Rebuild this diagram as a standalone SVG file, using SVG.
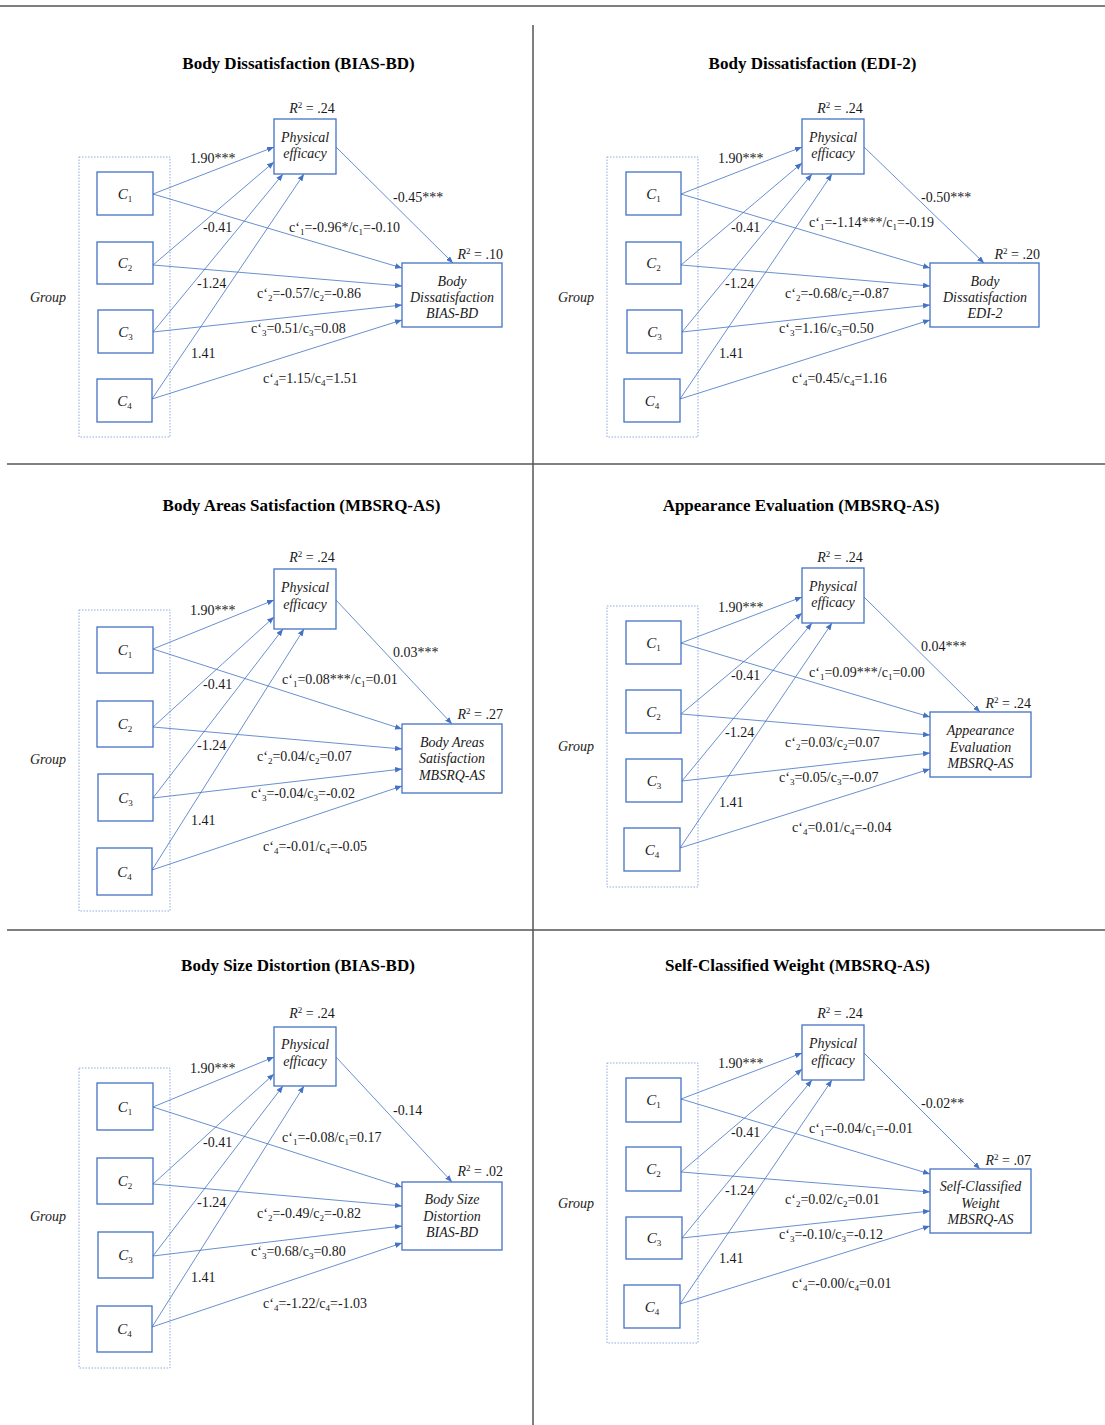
<svg xmlns="http://www.w3.org/2000/svg" width="1105" height="1425" viewBox="0 0 1105 1425">
<style>
.t{font-family:"Liberation Serif","Times New Roman",serif;font-weight:bold;font-size:17px;text-anchor:middle;fill:#000}
.lb{font-family:"Liberation Serif","Times New Roman",serif;font-size:14px;fill:#1a1a1a}
.nd{fill:#fff;stroke:#4472C4;stroke-width:1.3}
.nt{font-family:"Liberation Serif","Times New Roman",serif;font-style:italic;font-size:14px;text-anchor:middle;fill:#1a1a1a}
.ci{font-family:"Liberation Serif","Times New Roman",serif;font-style:italic;font-size:15px;text-anchor:middle;fill:#1a1a1a}
.gr{fill:none;stroke:#8FAADC;stroke-width:1;stroke-dasharray:1.5 1.5}
.gl{font-family:"Liberation Serif","Times New Roman",serif;font-style:italic;font-size:14px;fill:#1a1a1a}
.ar{stroke:#4472C4;stroke-width:0.8;fill:none;marker-end:url(#ah)}
.dv{stroke:#555;stroke-width:1.5}
.sb{font-size:9px;font-style:normal}
.it{font-style:italic}
</style>
<defs>
<marker id="ah" viewBox="0 0 10 8" refX="10" refY="4" markerWidth="7" markerHeight="5.6" orient="auto" markerUnits="userSpaceOnUse"><path d="M0,0 L10,4 L0,8 z" fill="#4472C4"/></marker>
</defs>
<rect width="1105" height="1425" fill="#fff"/>
<g id="dividers">
<line class="dv" x1="0" y1="6" x2="1105" y2="6"/>
<line class="dv" x1="533" y1="25" x2="533" y2="1425"/>
<line class="dv" x1="7" y1="464" x2="1105" y2="464"/>
<line class="dv" x1="7" y1="930" x2="1105" y2="930"/>
</g>
<g id="titles">
<text class="t" x="298.5" y="69">Body Dissatisfaction (BIAS-BD)</text>
<text class="t" x="812.5" y="69">Body Dissatisfaction (EDI-2)</text>
<text class="t" x="301.5" y="511">Body Areas Satisfaction (MBSRQ-AS)</text>
<text class="t" x="801" y="511">Appearance Evaluation (MBSRQ-AS)</text>
<text class="t" x="298" y="971">Body Size Distortion (BIAS-BD)</text>
<text class="t" x="797.5" y="971">Self-Classified Weight (MBSRQ-AS)</text>
</g>

<!-- Panel 1 -->
<g id="p1-group"><rect class="gr" x="79" y="157" width="91" height="280"/><text class="gl" x="30" y="302">Group</text></g>
<g id="p1-c1"><rect class="nd" x="97" y="172" width="56" height="43"/><text class="ci" x="125" y="199">C<tspan class="sb" dy="3">1</tspan></text></g>
<g id="p1-c2"><rect class="nd" x="97" y="242" width="56" height="42"/><text class="ci" x="125" y="268">C<tspan class="sb" dy="3">2</tspan></text></g>
<g id="p1-c3"><rect class="nd" x="98" y="310" width="55" height="43"/><text class="ci" x="125.5" y="337">C<tspan class="sb" dy="3">3</tspan></text></g>
<g id="p1-c4"><rect class="nd" x="97" y="379" width="55" height="43"/><text class="ci" x="124.5" y="406">C<tspan class="sb" dy="3">4</tspan></text></g>
<g id="p1-pe"><rect class="nd" x="274" y="119" width="62" height="55"/><text class="nt" x="305" y="142">Physical</text><text class="nt" x="305" y="158">efficacy</text>
<text class="lb" x="312" y="113" text-anchor="middle"><tspan class="it">R</tspan><tspan class="sb" dy="-5">2</tspan><tspan dy="5"> = .24</tspan></text></g>
<g id="p1-out"><rect class="nd" x="402" y="263" width="100" height="64"/><text class="nt" x="452" y="286">Body</text><text class="nt" x="452" y="302">Dissatisfaction</text><text class="nt" x="452" y="318">BIAS-BD</text>
<text class="lb" x="503" y="259" text-anchor="end"><tspan class="it">R</tspan><tspan class="sb" dy="-5">2</tspan><tspan dy="5"> = .10</tspan></text></g>

<!-- Panel 2 -->
<g id="p2-group"><rect class="gr" x="607" y="157" width="91" height="280"/><text class="gl" x="558" y="302">Group</text></g>
<g id="p2-c1"><rect class="nd" x="626" y="172" width="55" height="43"/><text class="ci" x="653.5" y="199">C<tspan class="sb" dy="3">1</tspan></text></g>
<g id="p2-c2"><rect class="nd" x="626" y="242" width="55" height="42"/><text class="ci" x="653.5" y="268">C<tspan class="sb" dy="3">2</tspan></text></g>
<g id="p2-c3"><rect class="nd" x="627" y="310" width="55" height="43"/><text class="ci" x="654.5" y="337">C<tspan class="sb" dy="3">3</tspan></text></g>
<g id="p2-c4"><rect class="nd" x="624" y="379" width="56" height="43"/><text class="ci" x="652" y="406">C<tspan class="sb" dy="3">4</tspan></text></g>
<g id="p2-pe"><rect class="nd" x="802" y="119" width="62" height="55"/><text class="nt" x="833" y="142">Physical</text><text class="nt" x="833" y="158">efficacy</text>
<text class="lb" x="840" y="113" text-anchor="middle"><tspan class="it">R</tspan><tspan class="sb" dy="-5">2</tspan><tspan dy="5"> = .24</tspan></text></g>
<g id="p2-out"><rect class="nd" x="930" y="263" width="109" height="64"/><text class="nt" x="985" y="286">Body</text><text class="nt" x="985" y="302">Dissatisfaction</text><text class="nt" x="985" y="318">EDI-2</text>
<text class="lb" x="1040" y="259" text-anchor="end"><tspan class="it">R</tspan><tspan class="sb" dy="-5">2</tspan><tspan dy="5"> = .20</tspan></text></g>

<!-- Panel 3 -->
<g id="p3-group"><rect class="gr" x="79" y="610" width="91" height="301"/><text class="gl" x="30" y="764">Group</text></g>
<g id="p3-c1"><rect class="nd" x="97" y="627" width="56" height="46"/><text class="ci" x="125" y="655">C<tspan class="sb" dy="3">1</tspan></text></g>
<g id="p3-c2"><rect class="nd" x="97" y="701" width="56" height="46"/><text class="ci" x="125" y="729">C<tspan class="sb" dy="3">2</tspan></text></g>
<g id="p3-c3"><rect class="nd" x="98" y="774" width="55" height="47"/><text class="ci" x="125.5" y="803">C<tspan class="sb" dy="3">3</tspan></text></g>
<g id="p3-c4"><rect class="nd" x="97" y="848" width="55" height="47"/><text class="ci" x="124.5" y="877">C<tspan class="sb" dy="3">4</tspan></text></g>
<g id="p3-pe"><rect class="nd" x="274" y="569" width="62" height="60"/><text class="nt" x="305" y="592">Physical</text><text class="nt" x="305" y="609">efficacy</text>
<text class="lb" x="312" y="562" text-anchor="middle"><tspan class="it">R</tspan><tspan class="sb" dy="-5">2</tspan><tspan dy="5"> = .24</tspan></text></g>
<g id="p3-out"><rect class="nd" x="402" y="724" width="100" height="69"/><text class="nt" x="452" y="747">Body Areas</text><text class="nt" x="452" y="763">Satisfaction</text><text class="nt" x="452" y="780">MBSRQ-AS</text>
<text class="lb" x="503" y="719" text-anchor="end"><tspan class="it">R</tspan><tspan class="sb" dy="-5">2</tspan><tspan dy="5"> = .27</tspan></text></g>

<!-- Panel 4 -->
<g id="p4-group"><rect class="gr" x="607" y="606" width="91" height="281"/><text class="gl" x="558" y="751">Group</text></g>
<g id="p4-c1"><rect class="nd" x="626" y="621" width="55" height="43"/><text class="ci" x="653.5" y="648">C<tspan class="sb" dy="3">1</tspan></text></g>
<g id="p4-c2"><rect class="nd" x="626" y="690" width="55" height="43"/><text class="ci" x="653.5" y="717">C<tspan class="sb" dy="3">2</tspan></text></g>
<g id="p4-c3"><rect class="nd" x="626" y="759" width="56" height="43"/><text class="ci" x="654" y="786">C<tspan class="sb" dy="3">3</tspan></text></g>
<g id="p4-c4"><rect class="nd" x="624" y="828" width="56" height="43"/><text class="ci" x="652" y="855">C<tspan class="sb" dy="3">4</tspan></text></g>
<g id="p4-pe"><rect class="nd" x="802" y="568" width="62" height="55"/><text class="nt" x="833" y="591">Physical</text><text class="nt" x="833" y="607">efficacy</text>
<text class="lb" x="840" y="562" text-anchor="middle"><tspan class="it">R</tspan><tspan class="sb" dy="-5">2</tspan><tspan dy="5"> = .24</tspan></text></g>
<g id="p4-out"><rect class="nd" x="930" y="712" width="101" height="65"/><text class="nt" x="980.5" y="735">Appearance</text><text class="nt" x="980.5" y="752">Evaluation</text><text class="nt" x="980.5" y="768">MBSRQ-AS</text>
<text class="lb" x="1031" y="708" text-anchor="end"><tspan class="it">R</tspan><tspan class="sb" dy="-5">2</tspan><tspan dy="5"> = .24</tspan></text></g>

<!-- Panel 5 -->
<g id="p5-group"><rect class="gr" x="79" y="1068" width="91" height="300"/><text class="gl" x="30" y="1221">Group</text></g>
<g id="p5-c1"><rect class="nd" x="97" y="1083" width="56" height="47"/><text class="ci" x="125" y="1112">C<tspan class="sb" dy="3">1</tspan></text></g>
<g id="p5-c2"><rect class="nd" x="97" y="1158" width="56" height="46"/><text class="ci" x="125" y="1186">C<tspan class="sb" dy="3">2</tspan></text></g>
<g id="p5-c3"><rect class="nd" x="98" y="1232" width="55" height="46"/><text class="ci" x="125.5" y="1260">C<tspan class="sb" dy="3">3</tspan></text></g>
<g id="p5-c4"><rect class="nd" x="97" y="1306" width="55" height="46"/><text class="ci" x="124.5" y="1334">C<tspan class="sb" dy="3">4</tspan></text></g>
<g id="p5-pe"><rect class="nd" x="274" y="1027" width="62" height="59"/><text class="nt" x="305" y="1049">Physical</text><text class="nt" x="305" y="1066">efficacy</text>
<text class="lb" x="312" y="1018" text-anchor="middle"><tspan class="it">R</tspan><tspan class="sb" dy="-5">2</tspan><tspan dy="5"> = .24</tspan></text></g>
<g id="p5-out"><rect class="nd" x="402" y="1182" width="100" height="68"/><text class="nt" x="452" y="1204">Body Size</text><text class="nt" x="452" y="1221">Distortion</text><text class="nt" x="452" y="1237">BIAS-BD</text>
<text class="lb" x="503" y="1176" text-anchor="end"><tspan class="it">R</tspan><tspan class="sb" dy="-5">2</tspan><tspan dy="5"> = .02</tspan></text></g>

<!-- Panel 6 -->
<g id="p6-group"><rect class="gr" x="607" y="1063" width="91" height="280"/><text class="gl" x="558" y="1208">Group</text></g>
<g id="p6-c1"><rect class="nd" x="626" y="1078" width="55" height="44"/><text class="ci" x="653.5" y="1105">C<tspan class="sb" dy="3">1</tspan></text></g>
<g id="p6-c2"><rect class="nd" x="626" y="1147" width="55" height="44"/><text class="ci" x="653.5" y="1174">C<tspan class="sb" dy="3">2</tspan></text></g>
<g id="p6-c3"><rect class="nd" x="626" y="1217" width="56" height="42"/><text class="ci" x="654" y="1243">C<tspan class="sb" dy="3">3</tspan></text></g>
<g id="p6-c4"><rect class="nd" x="624" y="1285" width="56" height="43"/><text class="ci" x="652" y="1312">C<tspan class="sb" dy="3">4</tspan></text></g>
<g id="p6-pe"><rect class="nd" x="802" y="1025" width="62" height="55"/><text class="nt" x="833" y="1048">Physical</text><text class="nt" x="833" y="1065">efficacy</text>
<text class="lb" x="840" y="1018" text-anchor="middle"><tspan class="it">R</tspan><tspan class="sb" dy="-5">2</tspan><tspan dy="5"> = .24</tspan></text></g>
<g id="p6-out"><rect class="nd" x="930" y="1169" width="101" height="64"/><text class="nt" x="980.5" y="1191">Self-Classified</text><text class="nt" x="980.5" y="1208">Weight</text><text class="nt" x="980.5" y="1224">MBSRQ-AS</text>
<text class="lb" x="1031" y="1165" text-anchor="end"><tspan class="it">R</tspan><tspan class="sb" dy="-5">2</tspan><tspan dy="5"> = .07</tspan></text></g>

<g id="connectors">
<!-- p1 -->
<line class="ar" x1="153" y1="194" x2="274" y2="147"/>
<line class="ar" x1="153" y1="265" x2="274" y2="162"/>
<line class="ar" x1="153" y1="332" x2="283" y2="174"/>
<line class="ar" x1="152" y1="399" x2="304" y2="174"/>
<line class="ar" x1="153" y1="194" x2="402" y2="268"/>
<line class="ar" x1="153" y1="265" x2="402" y2="286"/>
<line class="ar" x1="153" y1="332" x2="402" y2="305"/>
<line class="ar" x1="152" y1="399" x2="402" y2="320"/>
<line class="ar" x1="336" y1="147" x2="453" y2="263"/>
<!-- p2 -->
<line class="ar" x1="681" y1="194" x2="802" y2="147"/>
<line class="ar" x1="681" y1="265" x2="802" y2="163"/>
<line class="ar" x1="682" y1="332" x2="812" y2="174"/>
<line class="ar" x1="680" y1="399" x2="832" y2="174"/>
<line class="ar" x1="681" y1="194" x2="930" y2="268"/>
<line class="ar" x1="681" y1="265" x2="930" y2="286"/>
<line class="ar" x1="682" y1="332" x2="930" y2="305"/>
<line class="ar" x1="680" y1="399" x2="930" y2="320"/>
<line class="ar" x1="864" y1="147" x2="984" y2="263"/>
<!-- p3 -->
<line class="ar" x1="153" y1="649" x2="274" y2="600"/>
<line class="ar" x1="153" y1="727" x2="274" y2="617"/>
<line class="ar" x1="153" y1="798" x2="283" y2="629"/>
<line class="ar" x1="152" y1="870" x2="304" y2="629"/>
<line class="ar" x1="153" y1="649" x2="402" y2="729"/>
<line class="ar" x1="153" y1="727" x2="402" y2="749"/>
<line class="ar" x1="153" y1="798" x2="402" y2="769"/>
<line class="ar" x1="152" y1="870" x2="402" y2="786"/>
<line class="ar" x1="336" y1="600" x2="452" y2="724"/>
<!-- p4 -->
<line class="ar" x1="681" y1="643" x2="802" y2="597"/>
<line class="ar" x1="681" y1="714" x2="802" y2="613"/>
<line class="ar" x1="682" y1="781" x2="812" y2="623"/>
<line class="ar" x1="680" y1="848" x2="832" y2="623"/>
<line class="ar" x1="681" y1="643" x2="930" y2="717"/>
<line class="ar" x1="681" y1="714" x2="930" y2="735"/>
<line class="ar" x1="682" y1="781" x2="930" y2="753"/>
<line class="ar" x1="680" y1="848" x2="930" y2="769"/>
<line class="ar" x1="864" y1="597" x2="980" y2="712"/>
<!-- p5 -->
<line class="ar" x1="153" y1="1107" x2="274" y2="1057"/>
<line class="ar" x1="153" y1="1184" x2="274" y2="1074"/>
<line class="ar" x1="153" y1="1256" x2="283" y2="1086"/>
<line class="ar" x1="152" y1="1327" x2="304" y2="1086"/>
<line class="ar" x1="153" y1="1107" x2="402" y2="1187"/>
<line class="ar" x1="153" y1="1184" x2="402" y2="1206"/>
<line class="ar" x1="153" y1="1256" x2="402" y2="1226"/>
<line class="ar" x1="152" y1="1327" x2="402" y2="1243"/>
<line class="ar" x1="336" y1="1057" x2="452" y2="1182"/>
<!-- p6 -->
<line class="ar" x1="681" y1="1099" x2="802" y2="1053"/>
<line class="ar" x1="681" y1="1172" x2="802" y2="1069"/>
<line class="ar" x1="682" y1="1238" x2="812" y2="1080"/>
<line class="ar" x1="680" y1="1304" x2="832" y2="1080"/>
<line class="ar" x1="681" y1="1099" x2="930" y2="1174"/>
<line class="ar" x1="681" y1="1172" x2="930" y2="1192"/>
<line class="ar" x1="682" y1="1238" x2="930" y2="1211"/>
<line class="ar" x1="680" y1="1304" x2="930" y2="1226"/>
<line class="ar" x1="864" y1="1053" x2="980" y2="1169"/>
</g>

<g id="edge-labels">
<!-- p1 -->
<text class="lb" x="190" y="163">1.90***</text>
<text class="lb" x="203" y="232">-0.41</text>
<text class="lb" x="197" y="288">-1.24</text>
<text class="lb" x="191" y="358">1.41</text>
<text class="lb" x="393" y="202">-0.45***</text>
<text class="lb" x="289" y="232">c‘<tspan class="sb" dy="3">1</tspan><tspan dy="-3">=-0.96*/c</tspan><tspan class="sb" dy="3">1</tspan><tspan dy="-3">=-0.10</tspan></text>
<text class="lb" x="257" y="298">c‘<tspan class="sb" dy="3">2</tspan><tspan dy="-3">=-0.57/c</tspan><tspan class="sb" dy="3">2</tspan><tspan dy="-3">=-0.86</tspan></text>
<text class="lb" x="251" y="333">c‘<tspan class="sb" dy="3">3</tspan><tspan dy="-3">=0.51/c</tspan><tspan class="sb" dy="3">3</tspan><tspan dy="-3">=0.08</tspan></text>
<text class="lb" x="263" y="383">c‘<tspan class="sb" dy="3">4</tspan><tspan dy="-3">=1.15/c</tspan><tspan class="sb" dy="3">4</tspan><tspan dy="-3">=1.51</tspan></text>
<!-- p2 -->
<text class="lb" x="718" y="163">1.90***</text>
<text class="lb" x="731" y="232">-0.41</text>
<text class="lb" x="725" y="288">-1.24</text>
<text class="lb" x="719" y="358">1.41</text>
<text class="lb" x="921" y="202">-0.50***</text>
<text class="lb" x="809" y="227">c‘<tspan class="sb" dy="3">1</tspan><tspan dy="-3">=-1.14***/c</tspan><tspan class="sb" dy="3">1</tspan><tspan dy="-3">=-0.19</tspan></text>
<text class="lb" x="785" y="298">c‘<tspan class="sb" dy="3">2</tspan><tspan dy="-3">=-0.68/c</tspan><tspan class="sb" dy="3">2</tspan><tspan dy="-3">=-0.87</tspan></text>
<text class="lb" x="779" y="333">c‘<tspan class="sb" dy="3">3</tspan><tspan dy="-3">=1.16/c</tspan><tspan class="sb" dy="3">3</tspan><tspan dy="-3">=0.50</tspan></text>
<text class="lb" x="792" y="383">c‘<tspan class="sb" dy="3">4</tspan><tspan dy="-3">=0.45/c</tspan><tspan class="sb" dy="3">4</tspan><tspan dy="-3">=1.16</tspan></text>
<!-- p3 -->
<text class="lb" x="190" y="615">1.90***</text>
<text class="lb" x="203" y="689">-0.41</text>
<text class="lb" x="197" y="750">-1.24</text>
<text class="lb" x="191" y="825">1.41</text>
<text class="lb" x="393" y="657">0.03***</text>
<text class="lb" x="282" y="684">c‘<tspan class="sb" dy="3">1</tspan><tspan dy="-3">=0.08***/c</tspan><tspan class="sb" dy="3">1</tspan><tspan dy="-3">=0.01</tspan></text>
<text class="lb" x="257" y="761">c‘<tspan class="sb" dy="3">2</tspan><tspan dy="-3">=0.04/c</tspan><tspan class="sb" dy="3">2</tspan><tspan dy="-3">=0.07</tspan></text>
<text class="lb" x="251" y="798">c‘<tspan class="sb" dy="3">3</tspan><tspan dy="-3">=-0.04/c</tspan><tspan class="sb" dy="3">3</tspan><tspan dy="-3">=-0.02</tspan></text>
<text class="lb" x="263" y="851">c‘<tspan class="sb" dy="3">4</tspan><tspan dy="-3">=-0.01/c</tspan><tspan class="sb" dy="3">4</tspan><tspan dy="-3">=-0.05</tspan></text>
<!-- p4 -->
<text class="lb" x="718" y="612">1.90***</text>
<text class="lb" x="731" y="680">-0.41</text>
<text class="lb" x="725" y="737">-1.24</text>
<text class="lb" x="719" y="807">1.41</text>
<text class="lb" x="921" y="651">0.04***</text>
<text class="lb" x="809" y="677">c‘<tspan class="sb" dy="3">1</tspan><tspan dy="-3">=0.09***/c</tspan><tspan class="sb" dy="3">1</tspan><tspan dy="-3">=0.00</tspan></text>
<text class="lb" x="785" y="747">c‘<tspan class="sb" dy="3">2</tspan><tspan dy="-3">=0.03/c</tspan><tspan class="sb" dy="3">2</tspan><tspan dy="-3">=0.07</tspan></text>
<text class="lb" x="779" y="782">c‘<tspan class="sb" dy="3">3</tspan><tspan dy="-3">=0.05/c</tspan><tspan class="sb" dy="3">3</tspan><tspan dy="-3">=-0.07</tspan></text>
<text class="lb" x="792" y="832">c‘<tspan class="sb" dy="3">4</tspan><tspan dy="-3">=0.01/c</tspan><tspan class="sb" dy="3">4</tspan><tspan dy="-3">=-0.04</tspan></text>
<!-- p5 -->
<text class="lb" x="190" y="1073">1.90***</text>
<text class="lb" x="203" y="1147">-0.41</text>
<text class="lb" x="197" y="1207">-1.24</text>
<text class="lb" x="191" y="1282">1.41</text>
<text class="lb" x="393" y="1115">-0.14</text>
<text class="lb" x="282" y="1142">c‘<tspan class="sb" dy="3">1</tspan><tspan dy="-3">=-0.08/c</tspan><tspan class="sb" dy="3">1</tspan><tspan dy="-3">=0.17</tspan></text>
<text class="lb" x="257" y="1218">c‘<tspan class="sb" dy="3">2</tspan><tspan dy="-3">=-0.49/c</tspan><tspan class="sb" dy="3">2</tspan><tspan dy="-3">=-0.82</tspan></text>
<text class="lb" x="251" y="1256">c‘<tspan class="sb" dy="3">3</tspan><tspan dy="-3">=0.68/c</tspan><tspan class="sb" dy="3">3</tspan><tspan dy="-3">=0.80</tspan></text>
<text class="lb" x="263" y="1308">c‘<tspan class="sb" dy="3">4</tspan><tspan dy="-3">=-1.22/c</tspan><tspan class="sb" dy="3">4</tspan><tspan dy="-3">=-1.03</tspan></text>
<!-- p6 -->
<text class="lb" x="718" y="1068">1.90***</text>
<text class="lb" x="731" y="1137">-0.41</text>
<text class="lb" x="725" y="1195">-1.24</text>
<text class="lb" x="719" y="1263">1.41</text>
<text class="lb" x="921" y="1108">-0.02**</text>
<text class="lb" x="809" y="1133">c‘<tspan class="sb" dy="3">1</tspan><tspan dy="-3">=-0.04/c</tspan><tspan class="sb" dy="3">1</tspan><tspan dy="-3">=-0.01</tspan></text>
<text class="lb" x="785" y="1204">c‘<tspan class="sb" dy="3">2</tspan><tspan dy="-3">=0.02/c</tspan><tspan class="sb" dy="3">2</tspan><tspan dy="-3">=0.01</tspan></text>
<text class="lb" x="779" y="1239">c‘<tspan class="sb" dy="3">3</tspan><tspan dy="-3">=-0.10/c</tspan><tspan class="sb" dy="3">3</tspan><tspan dy="-3">=-0.12</tspan></text>
<text class="lb" x="792" y="1288">c‘<tspan class="sb" dy="3">4</tspan><tspan dy="-3">=-0.00/c</tspan><tspan class="sb" dy="3">4</tspan><tspan dy="-3">=0.01</tspan></text>
</g>
</svg>
